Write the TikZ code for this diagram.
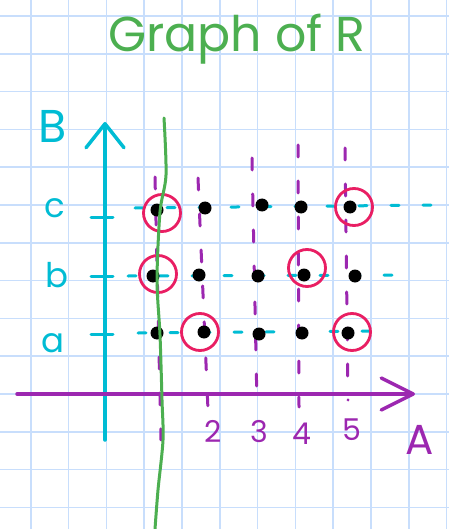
\documentclass[tikz,border=0pt]{standalone}
\usepackage{fontspec}
\setmainfont{Poppins}
\usetikzlibrary{arrows.meta, positioning}
\definecolor{gridblue}{RGB}{200, 222, 252}
\definecolor{pencyan}{RGB}{0, 188, 212}
\definecolor{penpurple}{RGB}{156, 39, 176}
\definecolor{penred}{RGB}{233, 30, 99}
\definecolor{pengreen}{RGB}{76, 175, 80}

\begin{document}
\begin{tikzpicture}[
        x=1pt, y=-1pt,
        gridline/.style = {gridblue, line width=1.6pt},
        dotmark/.style = {circle, fill=black, inner sep=0pt, minimum size=13pt},
        ring/.style = {circle, draw=penred, line width=2.8pt, inner sep=0pt, minimum size=37pt},
        rowdash/.style = {pencyan, line width=3pt, line cap=round, dash pattern=on 8pt off 24pt},
        coldash/.style = {penpurple, line width=3pt, line cap=round, dash pattern=on 12pt off 24pt},
        tickline/.style = {pencyan, line width=3pt, line cap=round},
        axisB/.style = {pencyan, line width=3.5pt, line cap=round, -{Straight Barb[round, length=24pt, width=38pt]}},
        axisA/.style = {penpurple, line width=3.5pt, line cap=round, -{Straight Barb[round, length=32pt, width=32pt]}},
        cyanlabel/.style = {pencyan, anchor=base, inner sep=0pt, font=\fontsize{34}{34}\selectfont},
        purplelabel/.style = {penpurple, anchor=base, inner sep=0pt, font=\fontsize{30}{30}\selectfont},
        titletext/.style = {pengreen, anchor=base, inner sep=0pt, font=\fontsize{49}{49}\selectfont}
    ]
        \useasboundingbox (0,0) rectangle (449,529);
        \fill[white] (0,0) rectangle (449,529);

        % Grid paper
        \foreach \k in {0,...,11}
            \draw[gridline] (30.7+37.8*\k,0) -- (30.7+37.8*\k,529);
        \foreach \k in {0,...,13}
            \draw[gridline] (0,16+37.8*\k) -- (449,16+37.8*\k);

        % Title
        \node[titletext] (title) at (237,52) {Graph of R};

        % Guide lines
        \foreach \row/\xs/\ys/\xe/\ye in {c/135/208/440/205, b/128/276/400/275, a/138/333/383/331} {
            \coordinate (\row west) at (\xs,\ys);
            \coordinate (\row east) at (\xe,\ye);
            \draw[rowdash] (\row west) -- (\row east);
        }
        \foreach \col/\xt/\yt/\xb/\yb in {1/155/177/161/440, 2/198/178/208/410, 3/252/158/257/405, 4/298/145/299/407, 5/345/148/348/400} {
            \coordinate (top\col) at (\xt,\yt);
            \coordinate (foot\col) at (\xb,\yb);
            \draw[coldash] (top\col) -- (foot\col);
        }

        % Axes
        \coordinate (Bfoot) at (105,440);
        \coordinate (Btip) at (105,122);
        \coordinate (Afoot) at (17,394);
        \coordinate (Atip) at (415,394);
        \draw[axisB] (Bfoot) -- (Btip);
        \draw[axisA] (Afoot) -- (Atip);
        \node[cyanlabel, font=\fontsize{46}{46}\selectfont] (Bname) at (53,143) {B};
        \node[purplelabel, font=\fontsize{42}{42}\selectfont] (Aname) at (420,454) {A};

        % Ticks and labels on B
        \foreach \row/\yy/\lx/\ly in {c/217/55/218, b/276/57/287, a/334/53/352} {
            \coordinate (tick\row) at (105,\yy);
            \draw[tickline] ([xshift=-14pt]tick\row) -- ([xshift=8pt]tick\row);
            \node[cyanlabel] (lab\row) at (\lx,\ly) {\row};
        }

        % Labels on A
        \foreach \col/\lx/\ly in {2/213/442, 3/259/442, 4/302/444, 5/352/440}
            \node[purplelabel] (num\col) at (\lx,\ly) {\col};

        % Points of A x B
        \foreach \name/\xx/\yy in {c1/157/210, c2/205/208, c3/262/205, c4/301/207, c5/350/207,
                                  b1/153/276, b2/199/275, b3/258/276, b4/304/275, b5/355/276,
                                  a1/157/333, a2/204/332, a3/259/334, a4/302/333, a5/348/333}
            \node[dotmark] (\name) at (\xx,\yy) {};

        % Pairs in R
        \node[ring] (r-c1) at ([xshift=5pt, yshift=-3pt]c1) {};
        \node[ring] (r-c5) at ([xshift=4pt]c5) {};
        \node[ring] (r-b1) at ([xshift=5pt, yshift=2pt]b1) {};
        \node[ring] (r-b4) at ([xshift=3pt, yshift=7pt]b4) {};
        \node[ring] (r-a2) at ([xshift=-4pt]a2) {};
        \node[ring] (r-a5) at ([xshift=4pt, yshift=1pt]a5) {};

        % Vertical line x = 1
        \draw[pengreen, line width=3pt, line cap=round] plot[smooth] coordinates
            {(164,118) (166,175) (160,212) (157,280) (160,335) (162,400) (163,440) (158,490) (155,529)};
    \end{tikzpicture}
\end{document}
